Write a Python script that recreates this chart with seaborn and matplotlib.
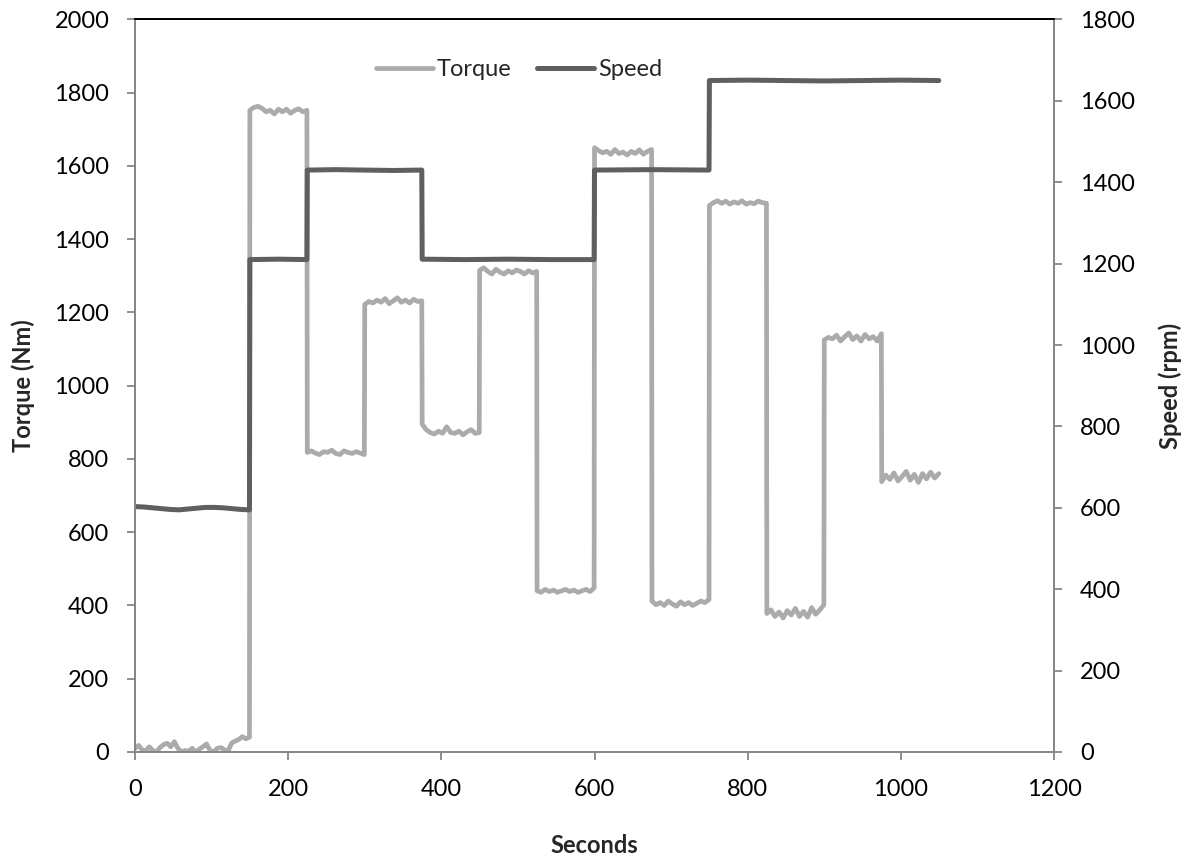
import numpy as np
import pandas as pd
import matplotlib
matplotlib.use("Agg")
import matplotlib.pyplot as plt
import seaborn as sns

# ---- data ----
torque_seg_start = [0, 150, 225, 300, 375, 450, 525, 600, 675, 750, 825, 900, 975]
torque_seg_end = [150, 225, 300, 375, 450, 525, 600, 675, 750, 825, 900, 975, 1050]
torque_samples = [
    [10, 18, 6, 3, 14, 4, 0, 12, 20, 24, 14, 28, 10, 0, 4, 2, 10, 0, 8, 14, 22, 4, 0, 10, 12, 6, 2, 24, 30, 34, 42, 36, 40],
    [1752, 1760, 1763, 1757, 1748, 1752, 1742, 1755, 1748, 1755, 1744, 1752, 1756, 1748, 1752],
    [818, 822, 816, 812, 820, 818, 824, 815, 812, 822, 818, 815, 820, 816, 812],
    [1222, 1230, 1226, 1234, 1228, 1238, 1224, 1232, 1240, 1228, 1234, 1226, 1236, 1230, 1232],
    [895, 880, 872, 868, 876, 870, 888, 872, 870, 876, 866, 874, 880, 870, 872],
    [1315, 1322, 1312, 1305, 1318, 1310, 1305, 1314, 1308, 1316, 1312, 1305, 1314, 1308, 1312],
    [440, 436, 444, 438, 442, 436, 440, 444, 438, 442, 436, 440, 444, 438, 448],
    [1650, 1642, 1636, 1640, 1632, 1645, 1634, 1638, 1630, 1640, 1634, 1644, 1632, 1640, 1645],
    [412, 402, 408, 400, 412, 404, 398, 410, 402, 408, 400, 406, 412, 408, 416],
    [1492, 1500, 1505, 1498, 1504, 1496, 1502, 1498, 1505, 1496, 1500, 1497, 1504, 1500, 1498],
    [378, 388, 370, 382, 366, 386, 374, 392, 370, 384, 368, 394, 376, 388, 402],
    [1125, 1132, 1128, 1138, 1122, 1134, 1144, 1126, 1136, 1122, 1140, 1128, 1134, 1122, 1142],
    [738, 756, 744, 762, 740, 752, 766, 742, 758, 736, 760, 746, 764, 748, 760],
]

speed_seg_start = [0, 150, 225, 375, 600, 750]
speed_seg_end = [150, 225, 375, 600, 750, 1050]
speed_samples = [
    [603, 602, 600, 598, 596, 595, 597, 599, 601, 601, 600, 598, 596, 595],
    [1210, 1211, 1210],
    [1430, 1431, 1430, 1429, 1430],
    [1211, 1210, 1211, 1210, 1210],
    [1430, 1431, 1430],
    [1650, 1651, 1650, 1649, 1650, 1651, 1650],
]

x_ticks = [0, 200, 400, 600, 800, 1000, 1200]
torque_ticks = [0, 200, 400, 600, 800, 1000, 1200, 1400, 1600, 1800, 2000]
speed_ticks = [0, 200, 400, 600, 800, 1000, 1200, 1400, 1600, 1800]


def build(starts, ends, samples):
    t, v = [], []
    for s, e, vals in zip(starts, ends, samples):
        tt = np.linspace(s, e - 0.5, len(vals))
        t.extend(tt)
        v.extend(vals)
    return np.array(t), np.array(v)


tq_t, tq_v = build(torque_seg_start, torque_seg_end, torque_samples)
sp_t, sp_v = build(speed_seg_start, speed_seg_end, speed_samples)
torque_df = pd.DataFrame({"Seconds": tq_t, "Torque": tq_v})
speed_df = pd.DataFrame({"Seconds": sp_t, "Speed": sp_v})

sns.set_theme(style="white")
plt.rcParams["font.family"] = ["Lato", "DejaVu Sans"]

FS = 17
fig = plt.figure(figsize=(11.87, 8.59), dpi=100)
ax = fig.add_axes([0.1137, 0.1246, 0.888 - 0.1137, 0.9773 - 0.1246])
ax2 = ax.twinx()

torque_color = "#ABABAB"
speed_color = "#5F5F5F"

sns.lineplot(data=torque_df, x="Seconds", y="Torque", ax=ax, color=torque_color,
             linewidth=3.4, estimator=None, sort=False, label="Torque", legend=False)
sns.lineplot(data=speed_df, x="Seconds", y="Speed", ax=ax2, color=speed_color,
             linewidth=3.6, estimator=None, sort=False, label="Speed", legend=False)
for ln in ax.get_lines() + ax2.get_lines():
    ln.set_solid_joinstyle("round")
    ln.set_solid_capstyle("round")

ax.set_xlim(0, 1200)
ax.set_ylim(0, 2000)
ax2.set_ylim(0, 1800)
ax.set_xticks(x_ticks)
ax.set_yticks(torque_ticks)
ax2.set_yticks(speed_ticks)

spine_gray = "#868686"
for a in (ax, ax2):
    for side in ("left", "bottom", "right"):
        a.spines[side].set_color(spine_gray)
        a.spines[side].set_linewidth(1.3)
    a.spines["top"].set_color("#000000")
    a.spines["top"].set_linewidth(1.3)
    a.grid(False)

ax.tick_params(axis="both", which="major", direction="out", length=5.5, width=1.3,
               color=spine_gray, labelsize=FS, labelcolor="black")
ax.tick_params(axis="x", bottom=True, pad=14)
ax.tick_params(axis="y", left=True, pad=13)
ax2.tick_params(axis="y", which="major", direction="out", length=5.5, width=1.3,
                color=spine_gray, labelsize=FS, labelcolor="black", right=True, pad=13)

ax.set_xlabel("Seconds", fontsize=FS, fontweight="bold")
ax.set_ylabel("Torque (Nm)", fontsize=FS, fontweight="bold")
ax2.set_ylabel("Speed (rpm)", fontsize=FS, fontweight="bold")
ax.xaxis.set_label_coords(0.5, -0.112)
ax.yaxis.set_label_coords(-0.109, 0.5)
ax2.yaxis.set_label_coords(1.113, 0.5)

handles = ax.get_lines()[:1] + ax2.get_lines()[:1]
ax.legend(handles, ["Torque", "Speed"], loc="center", bbox_to_anchor=(0.418, 0.932),
          ncol=2, frameon=False, fontsize=FS, handlelength=2.4, handletextpad=0.17,
          columnspacing=1.1)

fig.savefig("out.png", dpi=100)
